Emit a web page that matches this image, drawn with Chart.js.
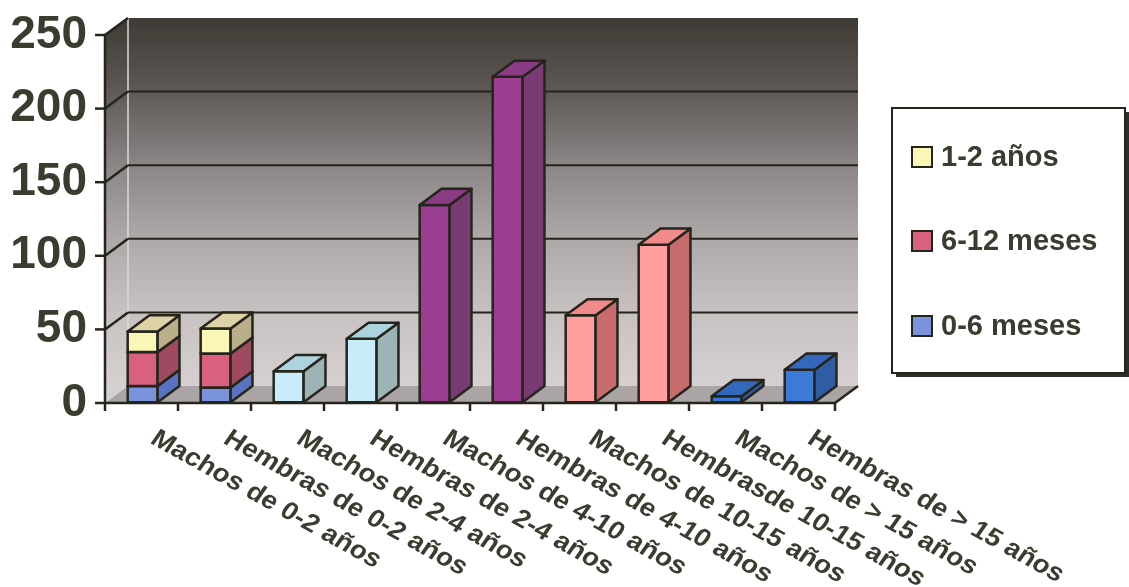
<!DOCTYPE html>
<html>
<head>
<meta charset="utf-8">
<script src="https://cdn.jsdelivr.net/npm/chart.js@4.4.0/dist/chart.umd.min.js"></script>
<style>
  html, body { margin: 0; padding: 0; background: #fff; }
  #wrap { width: 1129px; height: 587px; }
</style>
</head>
<body>
<div id="wrap"><canvas id="chart" width="1129" height="587"></canvas></div>
<script>
const categories = [
  "Machos de 0-2 años", "Hembras de 0-2 años",
  "Machos de 2-4 años", "Hembras de 2-4 años",
  "Machos de 4-10 años", "Hembras de 4-10 años",
  "Machos de 10-15 años", "Hembrasde 10-15 años",
  "Machos de > 15 años", "Hembras de > 15 años"
];

// stacked from the floor up
const meses0a6   = [11, 10, null, null, null, null, null, null, null, null];
const meses6a12  = [23, 23, null, null, null, null, null, null, null, null];
const anios1a2   = [14, 17, null, null, null, null, null, null, null, null];
const anios2a4   = [null, null, 21, 43, null, null, null, null, null, null];
const anios4a10  = [null, null, null, null, 134, 221, null, null, null, null];
const anios10a15 = [null, null, null, null, null, null, 59, 107, null, null];
const mayor15    = [null, null, null, null, null, null, null, null, 4, 22];

const yTicks = [0, 50, 100, 150, 200, 250];

const ink = "#3b3b2f";
const edge = "#26251c";
const depth = { dx: 23, dy: 17 };   // wall depth in px
const barFront = 0.05, barDepth = 0.95;

function series(label, data, front, top, side, legend) {
  return { label, data, backgroundColor: front, faces: { front, top, side }, legend, stack: "s" };
}

const datasets = [
  series("0-6 meses", meses0a6, "#7b93dc", "#6c86cf", "#5a72c2", true),
  series("6-12 meses", meses6a12, "#d9607f", "#b8536c", "#9e4a61", true),
  series("1-2 años", anios1a2, "#faf6b6", "#ddd3a6", "#bbae8b", true),
  series("2-4 años", anios2a4, "#c9ecfb", "#acd3de", "#9db4b6", false),
  series("4-10 años", anios4a10, "#9b3d90", "#8b3b83", "#7a3a73", false),
  series("10-15 años", anios10a15, "#ff9e9e", "#f08a8c", "#c76b6d", false),
  series("> 15 años", mayor15, "#3d79d6", "#3468bc", "#2f5ca2", false)
];

function wallGradient(ctx, top, bottom) {
  const g = ctx.createLinearGradient(0, top, 0, bottom);
  g.addColorStop(0, "#3f3a34");
  g.addColorStop(0.2, "#5f5957");
  g.addColorStop(0.4, "#8b8586");
  g.addColorStop(0.6, "#aea8a9");
  g.addColorStop(0.8, "#c7c1c2");
  g.addColorStop(1, "#d6d0d0");
  return g;
}

function poly(ctx, pts, fill, stroke, lw) {
  ctx.beginPath();
  ctx.moveTo(pts[0][0], pts[0][1]);
  for (let k = 1; k < pts.length; k++) ctx.lineTo(pts[k][0], pts[k][1]);
  ctx.closePath();
  if (fill) { ctx.fillStyle = fill; ctx.fill(); }
  if (stroke) { ctx.strokeStyle = stroke; ctx.lineWidth = lw || 2; ctx.stroke(); }
}

function line(ctx, x1, y1, x2, y2, color, lw) {
  ctx.beginPath();
  ctx.moveTo(x1, y1);
  ctx.lineTo(x2, y2);
  ctx.strokeStyle = color;
  ctx.lineWidth = lw;
  ctx.stroke();
}

const scene3d = {
  id: "scene3d",
  beforeDatasetsDraw(chart) {
    const { ctx, chartArea: a, scales: { x, y } } = chart;
    const { dx, dy } = depth;
    ctx.save();
    ctx.lineJoin = "round";

    // back wall, side wall and floor
    const grad = wallGradient(ctx, a.top - dy, a.bottom - dy);
    poly(ctx, [[a.left + dx, a.top - dy], [a.right + dx, a.top - dy], [a.right + dx, a.bottom - dy], [a.left + dx, a.bottom - dy]], grad);
    poly(ctx, [[a.left, a.top], [a.left + dx, a.top - dy], [a.left + dx, a.bottom - dy], [a.left, a.bottom]], grad);
    line(ctx, a.left + dx, a.top - dy, a.left + dx, a.bottom - dy, "#dcd8d8", 1.5);
    poly(ctx, [[a.left, a.bottom], [a.left + dx, a.bottom - dy], [a.right + dx, a.bottom - dy], [a.right, a.bottom]], "#aaa4a4");

    // grid on the back wall, slanted ticks on the side wall
    yTicks.forEach(v => {
      const py = y.getPixelForValue(v);
      if (v > 0 && v < 250) line(ctx, a.left + dx, py - dy, a.right + dx, py - dy, edge, 2);
      if (v > 0) line(ctx, a.left, py, a.left + dx, py - dy, edge, 2.5);
      line(ctx, a.left - 10, py, a.left, py, edge, 2.5);
    });

    // axes
    line(ctx, a.left, a.top, a.left, a.bottom + 8, edge, 2.5);
    line(ctx, a.left, a.bottom, a.right, a.bottom, edge, 2.5);
    line(ctx, a.right, a.bottom, a.right + dx, a.bottom - dy, edge, 2.5);
    for (let i = 1; i <= categories.length; i++) {
      const px = a.left + (a.right - a.left) * i / categories.length;
      line(ctx, px, a.bottom, px, a.bottom + 8, edge, 2.5);
    }

    // 3D columns
    const fx = dx * barFront, fy = dy * barFront;
    const bx = dx * barDepth, by = dy * barDepth;
    categories.forEach((c, i) => {
      chart.data.datasets.forEach((ds, di) => {
        if (!ds.data[i]) return;
        const bar = chart.getDatasetMeta(di).data[i];
        const half = bar.width / 2;
        const x0 = bar.x - half + fx, x1 = bar.x + half + fx;
        const yt = bar.y - fy, yb = bar.base - fy;
        const f = ds.faces;
        poly(ctx, [[x0, yt], [x1, yt], [x1, yb], [x0, yb]], f.front, edge, 2.5);
        poly(ctx, [[x1, yt], [x1 + bx, yt - by], [x1 + bx, yb - by], [x1, yb]], f.side, edge, 2.5);
        poly(ctx, [[x0, yt], [x0 + bx, yt - by], [x1 + bx, yt - by], [x1, yt]], f.top, edge, 2.5);
      });
    });
    ctx.restore();
    return false;
  },
  afterDraw(chart) {
    const { ctx, scales: { x } } = chart;
    ctx.save();

    // slanted category labels
    ctx.font = "bold 25px 'Liberation Sans', Arial, sans-serif";
    ctx.fillStyle = ink;
    ctx.textBaseline = "top";
    categories.forEach((c, i) => {
      ctx.save();
      ctx.translate(x.getPixelForValue(i) + 19, 426);
      ctx.scale(1.12, 1);
      ctx.rotate(32 * Math.PI / 180);
      ctx.fillText(c, 0, 0);
      ctx.restore();
    });

    // legend box
    const L = { x: 892, y: 108, w: 233, h: 265 };
    ctx.fillStyle = "#2e2d28";
    ctx.fillRect(L.x + 4, L.y + 4, L.w, L.h);
    ctx.fillStyle = "#fff";
    ctx.fillRect(L.x, L.y, L.w, L.h);
    ctx.strokeStyle = edge;
    ctx.lineWidth = 2;
    ctx.strokeRect(L.x, L.y, L.w, L.h);

    const items = chart.data.datasets.filter(ds => ds.legend).reverse();
    const rows = [157, 241, 326];
    ctx.font = "bold 29px 'Liberation Sans', Arial, sans-serif";
    ctx.textBaseline = "middle";
    items.forEach((ds, k) => {
      const cy = rows[k];
      ctx.fillStyle = ds.faces.front;
      ctx.fillRect(912, cy - 10, 20, 20);
      ctx.lineWidth = 2;
      ctx.strokeRect(912, cy - 10, 20, 20);
      ctx.fillStyle = ink;
      ctx.fillText(ds.label, 941, cy + 1);
    });
    ctx.restore();
  }
};

new Chart(document.getElementById("chart"), {
  type: "bar",
  data: { labels: categories, datasets },
  options: {
    responsive: false,
    animation: false,
    layout: { padding: { left: 0, top: 35, right: 294, bottom: 0 } },
    datasets: { bar: { categoryPercentage: 1, barPercentage: 0.41 } },
    plugins: { legend: { display: false }, tooltip: { enabled: false } },
    scales: {
      x: {
        stacked: true,
        grid: { display: false, drawTicks: false },
        border: { display: false },
        ticks: { display: false },
        afterFit: s => { s.height = 184; s.paddingLeft = 0; s.paddingRight = 0; }
      },
      y: {
        stacked: true,
        min: 0,
        max: 250,
        grid: { display: false, drawTicks: false },
        border: { display: false },
        ticks: {
          stepSize: 50,
          padding: 18,
          color: ink,
          font: { family: "'Liberation Sans', Arial, sans-serif", size: 46, weight: "bold" }
        },
        afterFit: s => { s.width = 105; s.paddingTop = 0; s.paddingBottom = 0; }
      }
    }
  },
  plugins: [scene3d]
});
</script>
</body>
</html>
